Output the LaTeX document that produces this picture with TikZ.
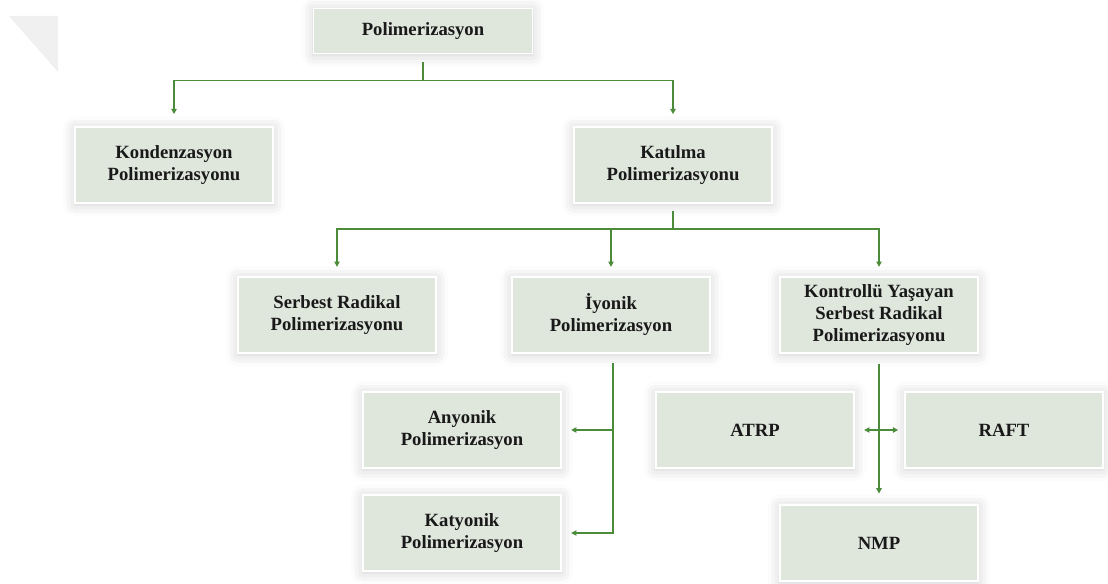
\documentclass[tikz,border=0pt]{standalone}
\usepackage{fontspec}
\setmainfont{Liberation Serif}
\usepackage{tikz}
\usetikzlibrary{calc,arrows.meta,shadows.blur}

\definecolor{boxfill}{RGB}{223,230,220}
\definecolor{linkgreen}{RGB}{74,140,58}

\tikzset{
  box/.style={draw=white, line width=1.2pt, fill=boxfill,
    minimum width=148.5pt, minimum height=57pt, align=center,
    font=\fontsize{14}{16.5}\selectfont\bfseries, text=black!90,
    blur shadow={shadow xshift=0pt, shadow yshift=-1pt,
      shadow blur radius=9pt, shadow opacity=20}},
  topbox/.style={box, minimum width=164pt, minimum height=34pt},
  link/.style={draw=linkgreen, line width=1.1pt},
  arr/.style={link, -{Triangle[length=4pt,width=4pt]}},
  dblarr/.style={link, {Triangle[length=4pt,width=4pt]}-{Triangle[length=4pt,width=4pt]}}
}

\begin{document}
\begin{tikzpicture}[x=0.75pt, y=-0.75pt]
    \useasboundingbox (0,0) rectangle (1108,584);
    \fill[black!6] (9,16) -- (58,16) -- (58,72) -- cycle;

    % Define nodes
    \node[topbox] (poli) at (423,31) {Polimerizasyon};

    \node[box] (kond) at (174,165) {Kondenzasyon\\Polimerizasyonu};
    \node[box] (kat) at (673,165) {Katılma\\Polimerizasyonu};

    \node[box] (serb) at (337,315) {Serbest Radikal\\Polimerizasyonu};
    \node[box] (iyo) at (611,315) {İyonik\\Polimerizasyon};
    \node[box] (kont) at (879,315) {Kontrollü Yaşayan\\Serbest Radikal\\Polimerizasyonu};

    \node[box] (any) at (462,430) {Anyonik\\Polimerizasyon};
    \node[box] (katy) at (462,533) {Katyonik\\Polimerizasyon};

    \node[box] (atrp) at (755,430) {ATRP};
    \node[box] (raft) at (1004,430) {RAFT};
    \node[box] (nmp) at (879,543) {NMP};

    % Draw arrows
    \draw[link] ($(poli.south)+(0,8)$) -- ($(poli.south)+(0,26)$) coordinate (bus1);
    \draw[arr, shorten >=9pt] (bus1) -| (kond.north);
    \draw[arr, shorten >=9pt] (bus1) -| (kat.north);

    \draw[link] ($(kat.south)+(0,7)$) -- ($(kat.south)+(0,25)$) coordinate (bus2);
    \draw[arr, shorten >=7pt] (bus2) -| (serb.north);
    \draw[arr, shorten >=7pt] (bus2) -| (iyo.north);
    \draw[arr, shorten >=7pt] (bus2) -| (kont.north);

    % Iyonik branches to the left
    \coordinate (iyo-drop) at ($(iyo.south)+(2,9)$);
    \draw[arr, shorten >=7pt] (iyo-drop) |- (katy.east);
    \draw[arr, shorten >=7pt] (iyo-drop |- any.east) -- (any.east);

    % Kontrollu to NMP, with ATRP <-> RAFT
    \draw[arr, shorten <=8pt, shorten >=8pt] (kont.south) -- (nmp.north);
    \draw[dblarr, shorten <=7pt, shorten >=4.5pt] (atrp.east) -- (raft.west);
\end{tikzpicture}
\end{document}
